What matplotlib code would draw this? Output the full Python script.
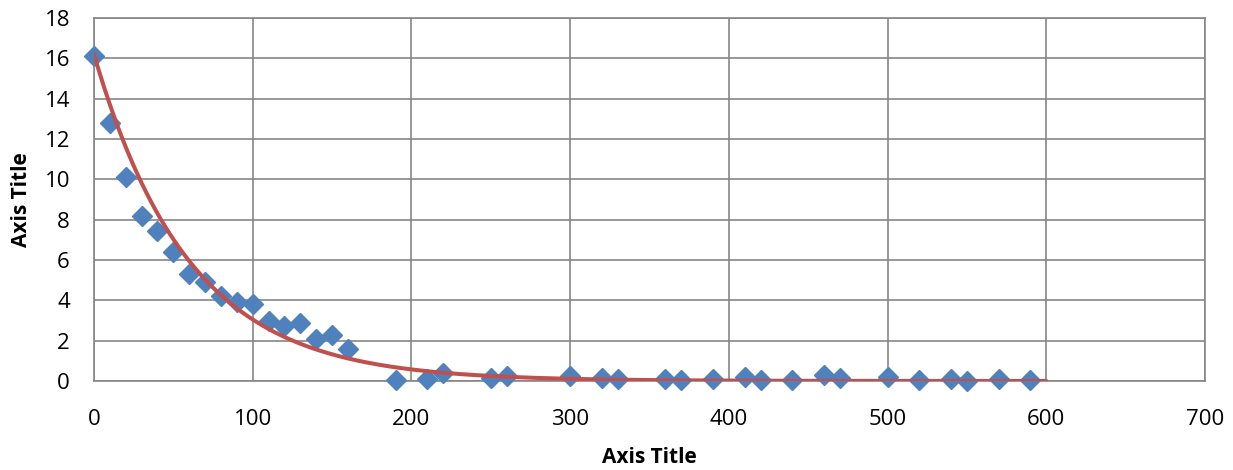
import numpy as np
import matplotlib
matplotlib.use("Agg")
import matplotlib.pyplot as plt

x_vals = [0, 10, 20, 30, 40, 50, 60, 70, 80, 90, 100, 110, 120, 130, 140, 150, 160,
          190, 210, 220, 250, 260, 300, 320, 330, 360, 370, 390, 410, 420, 440,
          460, 470, 500, 520, 540, 550, 570, 590]
y_vals = [16.1, 12.8, 10.1, 8.2, 7.45, 6.4, 5.3, 4.9, 4.2, 3.9, 3.8, 3.0, 2.75, 2.9, 2.1, 2.3, 1.6,
          0.05, 0.1, 0.4, 0.15, 0.25, 0.25, 0.15, 0.1, 0.1, 0.05, 0.1, 0.2, 0.05, 0.05,
          0.3, 0.15, 0.2, 0.05, 0.1, 0.0, 0.1, 0.05]

trend_a = 16.2
trend_b = -0.0167
trend_range = (0, 600)

plt.rcParams['font.family'] = ['Open Sans', 'DejaVu Sans']

fig = plt.figure(figsize=(12.33, 4.70), dpi=100)
ax = fig.add_axes([94/1233, 1 - 381/470, (1205-94)/1233, (381-18)/470])

tx = np.linspace(trend_range[0], trend_range[1], 400)
ty = trend_a * np.exp(trend_b * tx)

ax.plot(x_vals, y_vals, linestyle='none', marker='D', markersize=10,
        color='#4F81BD', markeredgecolor='#4F81BD', zorder=3, clip_on=False)
ax.plot(tx, ty, color='#C0504D', linewidth=2.9, zorder=4, solid_capstyle='round')

ax.set_xlim(0, 700)
ax.set_ylim(0, 18)
ax.set_xticks(range(0, 701, 100))
ax.set_yticks(range(0, 19, 2))
ax.grid(True, color='#868686', linewidth=1.2)
ax.set_axisbelow(True)
for s in ax.spines.values():
    s.set_color('#868686')
    s.set_linewidth(1.2)
px2pt = 72 / 100
ax.tick_params(axis='both', length=0, labelsize=16, colors='black')
ax.tick_params(axis='x', pad=(425 - 381) * px2pt)
ax.tick_params(axis='y', pad=24 * px2pt)
for lbl in ax.get_xticklabels():
    lbl.set_va('baseline')
ax.set_xlabel('Axis Title', fontsize=15, fontweight='bold', va='baseline')
ax.set_ylabel('Axis Title', fontsize=15, fontweight='bold', va='baseline')
ax.xaxis.set_label_coords(0.5, -(463 - 381) / 363)
ax.yaxis.set_label_coords((27 - 94) / 1111, 0.5)

fig.savefig('out.png', dpi=100)
